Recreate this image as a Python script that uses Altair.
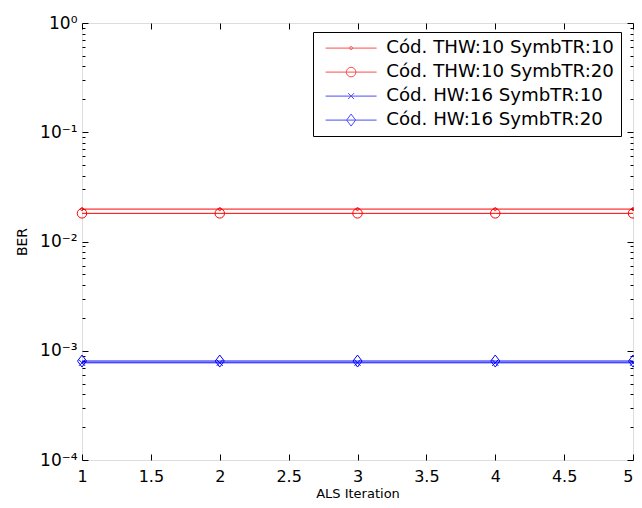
import altair as alt
import pandas as pd

# ---- data ----
iterations = [1, 2, 3, 4, 5]
series_names = [
    "Cód. THW:10 SymbTR:10",
    "Cód. THW:10 SymbTR:20",
    "Cód. HW:16 SymbTR:10",
    "Cód. HW:16 SymbTR:20",
]
ber_thw10_s10 = [0.0198, 0.0198, 0.0198, 0.0198, 0.0198]
ber_thw10_s20 = [0.0181, 0.0181, 0.0181, 0.0181, 0.0181]
ber_hw16_s10 = [0.000776, 0.000776, 0.000776, 0.000776, 0.000776]
ber_hw16_s20 = [0.000805, 0.000805, 0.000805, 0.000805, 0.000805]
x_ticks = [1, 1.5, 2, 2.5, 3, 3.5, 4, 4.5, 5]
y_major = [1e-4, 1e-3, 1e-2, 1e-1, 1]
y_minor = [m * 10.0 ** e for e in range(-4, 0) for m in range(2, 10)]

series_colors = ["#ff0000", "#ff0000", "#0000ff", "#0000ff"]

# marker shapes (unit = 5 px at size 100)
marker_paths = [
    "M-0.3,0A0.3,0.3 0 1,0 0.3,0A0.3,0.3 0 1,0 -0.3,0Z",
    "M-0.95,0A0.95,0.95 0 1,0 0.95,0A0.95,0.95 0 1,0 -0.95,0Z",
    "M-0.6,-0.6L0.6,0.6M-0.6,0.6L0.6,-0.6",
    "M0,-1.2L0.9,0L0,1.2L-0.9,0Z",
]
# legend symbols: line with the marker in the middle
legend_paths = [
    "M-0.7,0L9.5,0M4.1,0A0.3,0.3 0 1,0 4.7,0A0.3,0.3 0 1,0 4.1,0Z",
    "M-0.7,0L9.5,0M3.45,0A0.95,0.95 0 1,0 5.35,0A0.95,0.95 0 1,0 3.45,0Z",
    "M-0.7,0L9.5,0M3.8,-0.6L5,0.6M3.8,0.6L5,-0.6",
    "M-0.7,0L9.5,0M4.4,-1.2L5.3,0L4.4,1.2L3.5,0Z",
]

rows = []
for name, vals in zip(series_names, [ber_thw10_s10, ber_thw10_s20, ber_hw16_s10, ber_hw16_s20]):
    for xv, yv in zip(iterations, vals):
        rows.append({"x": xv, "ber": yv, "series": name})
df = pd.DataFrame(rows)

FONT = "DejaVu Sans"
xscale = alt.Scale(domain=[1, 5], nice=False, zero=False)
yscale = alt.Scale(type="log", domain=[1e-4, 1], nice=False)
cscale = alt.Scale(domain=series_names, range=series_colors)

label_expr = ("datum.value > 0.5 ? '10⁰' : datum.value > 0.05 ? '10⁻¹' : "
              "datum.value > 0.005 ? '10⁻²' : datum.value > 0.0005 ? '10⁻³' : '10⁻⁴'")

common_axis = dict(domain=False, grid=False, tickColor="black", tickWidth=1)

x_bottom = alt.Axis(orient="bottom", values=x_ticks, offset=-6, tickSize=6, format="~g",
                    labelFont=FONT, labelFontSize=16, labelColor="black", labelPadding=8,
                    labelAlign=alt.ConditionalAxisLabelAlign(
                        condition={"test": "datum.value >= 4.99", "value": "right"},
                        value="center"),
                    labelFlush=False, labelOverlap=False,
                    title="ALS Iteration", titleFont=FONT, titleFontSize=13,
                    titleFontWeight="normal", titleColor="black",
                    titleBaseline="alphabetic", titleY=43, **common_axis)
x_top = alt.Axis(orient="top", values=x_ticks, offset=-6, tickSize=6, labels=False,
                 title=None, **common_axis)
y_left = alt.Axis(orient="left", values=y_major, offset=-6, tickSize=6, labelExpr=label_expr,
                  labelFont=FONT, labelFontSize=17, labelColor="black", labelPadding=5,
                  labelFlush=False, labelOverlap=False,
                  title="BER", titleFont=FONT, titleFontSize=14, titleFontWeight="normal",
                  titleColor="black", titlePadding=10, **common_axis)
y_left_minor = alt.Axis(orient="left", values=y_minor, offset=-3, tickSize=3, labels=False,
                        title=None, **common_axis)
y_right = alt.Axis(orient="right", values=y_major, offset=-6, tickSize=6, labels=False,
                   title=None, **common_axis)
y_right_minor = alt.Axis(orient="right", values=y_minor, offset=-3, tickSize=3, labels=False,
                         title=None, **common_axis)

base = alt.Chart(df)

lines = base.mark_line(strokeWidth=1, clip=False).encode(
    x=alt.X("x:Q", scale=xscale, axis=x_bottom),
    y=alt.Y("ber:Q", scale=yscale, axis=y_left),
    color=alt.Color("series:N", scale=cscale, legend=None),
)

points = base.mark_point(filled=False, size=100, strokeWidth=1, opacity=1).encode(
    x=alt.X("x:Q", scale=xscale, axis=x_top),
    y=alt.Y("ber:Q", scale=yscale, axis=y_left_minor),
    color=alt.Color("series:N", scale=cscale, legend=None),
    shape=alt.Shape("series:N", scale=alt.Scale(domain=series_names, range=marker_paths), legend=None),
)

axis_r = base.mark_point(opacity=0).encode(
    x=alt.X("x:Q", scale=xscale, axis=None),
    y=alt.Y("ber:Q", scale=yscale, axis=y_right),
)
axis_r_minor = base.mark_point(opacity=0).encode(
    x=alt.X("x:Q", scale=xscale, axis=None),
    y=alt.Y("ber:Q", scale=yscale, axis=y_right_minor),
)

legend_layer = base.transform_filter("false").mark_point(filled=False, strokeWidth=1).encode(
    x=alt.X("x:Q", scale=xscale, axis=None),
    y=alt.Y("ber:Q", scale=yscale, axis=None),
    color=alt.Color("series:N", scale=cscale, legend=alt.Legend(
        title=None, orient="none", legendX=231, legendY=9,
        strokeColor="black", fillColor="white", padding=7,
        symbolSize=100, symbolStrokeWidth=1, labelOffset=48,
        labelFont=FONT, labelFontSize=18.2, labelColor="black", rowPadding=5,
        labelLimit=400)),
    shape=alt.Shape("series:N", scale=alt.Scale(domain=series_names, range=legend_paths)),
)

chart = alt.layer(lines, points, axis_r, axis_r_minor, legend_layer).resolve_scale(
    color="independent", shape="independent"
).resolve_axis(
    x="independent", y="independent"
).properties(
    width=551, height=437,
    autosize=alt.AutoSizeParams(type="none"),
    padding={"left": 74, "top": 15, "right": 1, "bottom": 40},
).configure_view(
    stroke="black", strokeWidth=1
).configure(background="white")

chart.save("out.html", embed_options={"renderer": "svg", "actions": False})
